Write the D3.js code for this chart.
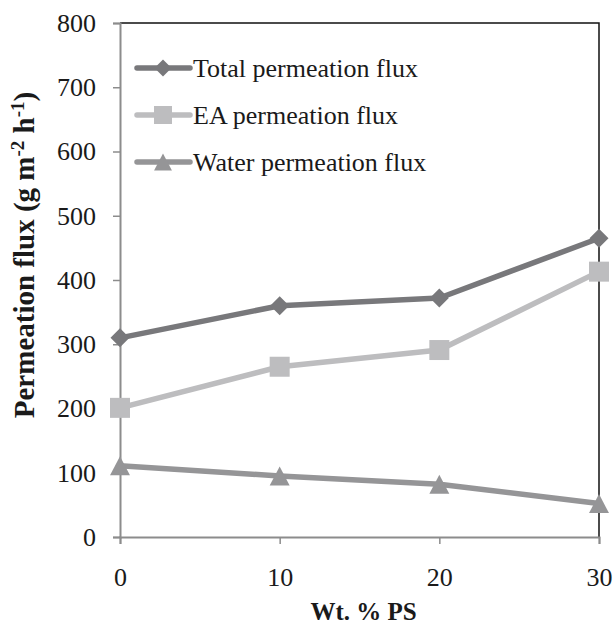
<!DOCTYPE html>
<html>
<head>
<meta charset="utf-8">
<script src="https://cdn.jsdelivr.net/npm/d3@7"></script>
<style>
  body { margin: 0; background: #fff; }
  text { font-family: "Liberation Serif", "Times New Roman", serif; fill: #1a1a1a; }
</style>
</head>
<body>
<script>
var psLevels = [0, 10, 20, 30],
    totalFlux = [310, 360, 372, 465],
    eaFlux = [201, 265, 291, 413],
    waterFlux = [111, 95, 82, 52],
    yTicks = [0, 100, 200, 300, 400, 500, 600, 700, 800];

var seriesNames = ["Total permeation flux", "EA permeation flux", "Water permeation flux"],
    seriesColors = ["#78787b", "#bdbdbf", "#959597"];

// Excel-style markers: size is the box width in px
var diamond = { draw: function(ctx, s) { var r = s / 2; ctx.moveTo(0, -r); ctx.lineTo(r, 0); ctx.lineTo(0, r); ctx.lineTo(-r, 0); ctx.closePath(); } };
var square = { draw: function(ctx, s) { var r = s / 2; ctx.rect(-r, -r, s, s); } };
var triangle = { draw: function(ctx, s) { var r = s / 2; ctx.moveTo(0, -r); ctx.lineTo(r * 1.05, r); ctx.lineTo(-r * 1.05, r); ctx.closePath(); } };
var seriesShapes = [diamond, square, triangle],
    seriesSizes = [19, 20, 19];

var width = 613, height = 626;
var margin = {left: 120, right: 14, top: 23, bottom: 89};

var svg = d3.select("body").append("svg")
    .attr("width", width)
    .attr("height", height);

var x = d3.scaleLinear().domain([0, 30]).range([margin.left, width - margin.right]);
var y = d3.scaleLinear().domain([0, 800]).range([height - margin.bottom, margin.top]);

// plot frame (top and right are black)
svg.append("path")
    .attr("d", "M" + x(0) + "," + y(800) + "H" + x(30) + "V" + y(0))
    .attr("fill", "none")
    .attr("stroke", "#111")
    .attr("stroke-width", 1.5);

var yAxis = svg.append("g")
    .attr("transform", "translate(" + x(0) + ",0)")
    .call(d3.axisLeft(y).tickValues(yTicks).tickSize(7).tickPadding(17));
yAxis.select(".domain").attr("stroke", "#8c8c8c").attr("stroke-width", 2);
yAxis.selectAll(".tick line").attr("stroke", "#8c8c8c").attr("stroke-width", 1.5);
yAxis.selectAll("text").style("font-size", "26px").attr("fill", "#1a1a1a");

var xAxis = svg.append("g")
    .attr("transform", "translate(0," + y(0) + ")")
    .call(d3.axisBottom(x).tickValues(psLevels).tickSize(7).tickPadding(24));
xAxis.select(".domain").attr("stroke", "#8c8c8c").attr("stroke-width", 2);
xAxis.selectAll(".tick line").attr("stroke", "#8c8c8c").attr("stroke-width", 1.5);
xAxis.selectAll("text").style("font-size", "26px").attr("fill", "#1a1a1a");

svg.append("text")
    .attr("x", x(15) + 4)
    .attr("y", 620)
    .attr("text-anchor", "middle")
    .style("font-size", "25px")
    .style("font-weight", "bold")
    .text("Wt. % PS");

var yTitle = svg.append("text")
    .attr("transform", "translate(34,255) rotate(-90)")
    .attr("text-anchor", "middle")
    .style("font-size", "29px")
    .style("font-weight", "bold");
yTitle.append("tspan").text("Permeation flux (g m");
yTitle.append("tspan").attr("dy", -10).style("font-size", "19px").text("-2");
yTitle.append("tspan").attr("dy", 10).text(" h");
yTitle.append("tspan").attr("dy", -10).style("font-size", "19px").text("-1");
yTitle.append("tspan").attr("dy", 10).text(")");

var allSeries = [totalFlux, eaFlux, waterFlux];
var line = d3.line()
    .x(function(d, i) { return x(psLevels[i]); })
    .y(function(d) { return y(d); });

allSeries.forEach(function(vals, k) {
  var g = svg.append("g");
  g.append("path")
    .datum(vals)
    .attr("d", line)
    .attr("fill", "none")
    .attr("stroke", seriesColors[k])
    .attr("stroke-width", 5.5)
    .attr("stroke-linejoin", "round");
  g.selectAll("path.pt")
    .data(vals)
    .enter().append("path")
      .attr("class", "pt")
      .attr("transform", function(d, i) { return "translate(" + x(psLevels[i]) + "," + y(d) + ")"; })
      .attr("d", d3.symbol().type(seriesShapes[k]).size(seriesSizes[k]))
      .attr("fill", seriesColors[k]);
});

// legend
var legend = svg.append("g");
seriesNames.forEach(function(name, k) {
  var ly = 68 + k * 47;
  legend.append("line")
    .attr("x1", 137).attr("x2", 190)
    .attr("y1", ly).attr("y2", ly)
    .attr("stroke", seriesColors[k])
    .attr("stroke-width", 5.5)
    .attr("stroke-linecap", "round");
  legend.append("path")
    .attr("transform", "translate(163," + ly + ")")
    .attr("d", d3.symbol().type(seriesShapes[k]).size(seriesSizes[k] - 2))
    .attr("fill", seriesColors[k]);
  legend.append("text")
    .attr("x", 193)
    .attr("y", ly + 9)
    .style("font-size", "26px")
    .text(name);
});
</script>
</body>
</html>
